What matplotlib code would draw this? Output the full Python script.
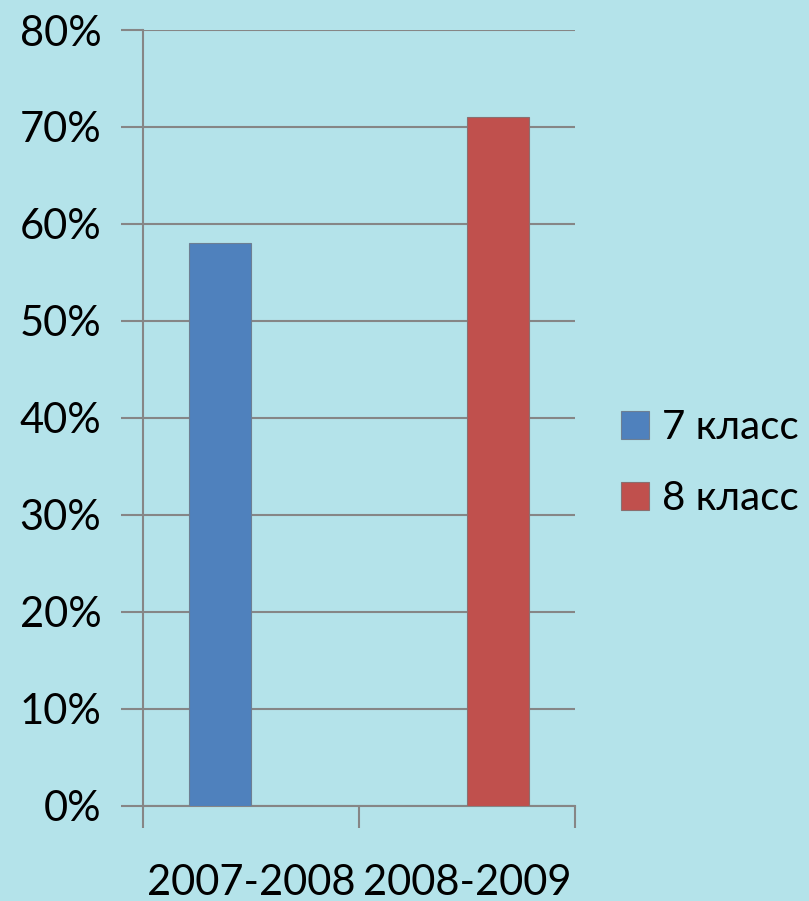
import numpy as np
import matplotlib.pyplot as plt
from matplotlib.ticker import FuncFormatter

# data
categories = ['2007-2008', '2008-2009']
series_names = ['7 класс', '8 класс']
grade7 = [58, 0]
grade8 = [0, 71]
colors = ['#4f81bd', '#c0504d']

plt.rcParams['font.family'] = ['Lato', 'DejaVu Sans']

fig = plt.figure(figsize=(8.09, 9.01), dpi=100)
fig.patch.set_facecolor('#b4e3ea')
ax = fig.add_axes([0.1768, 0.1055, 0.534, 0.8612])
ax.set_facecolor('none')

x = np.arange(len(categories))
w = 0.288
ax.bar(x - w / 2, grade7, w, color=colors[0], edgecolor='#6d7f93', linewidth=0.8,
       label=series_names[0], zorder=3)
ax.bar(x + w / 2, grade8, w, color=colors[1], edgecolor='#8a6f70', linewidth=0.8,
       label=series_names[1], zorder=3)

ax.set_xlim(-0.5, 1.5)
ax.set_ylim(0, 80)
ax.set_yticks(range(0, 81, 10))
ax.yaxis.set_major_formatter(FuncFormatter(lambda v, p: f'{int(v)}%'))
ax.yaxis.grid(True, color='#868686', linewidth=1.5, zorder=1)

ax.set_xticks(x)
ax.set_xticklabels(categories)
ax.set_xticks([-0.5, 0.5, 1.5], minor=True)
ax.tick_params(axis='x', which='major', length=0, pad=42, labelsize=30)
ax.tick_params(axis='x', which='minor', length=16, width=1.5, color='#868686')
ax.tick_params(axis='y', length=16, width=1.5, color='#868686', labelsize=30, pad=14)

for s in ['top', 'right']:
    ax.spines[s].set_visible(False)
for s in ['left', 'bottom']:
    ax.spines[s].set_color('#868686')
    ax.spines[s].set_linewidth(1.5)

leg = fig.legend(loc='center left', bbox_to_anchor=(0.767, 0.486), frameon=False,
                 fontsize=29, handlelength=0.7, handleheight=0.7, handletextpad=0.32,
                 labelspacing=0.85, borderaxespad=0, borderpad=0)

fig.savefig('out.png', dpi=100, facecolor=fig.get_facecolor())
